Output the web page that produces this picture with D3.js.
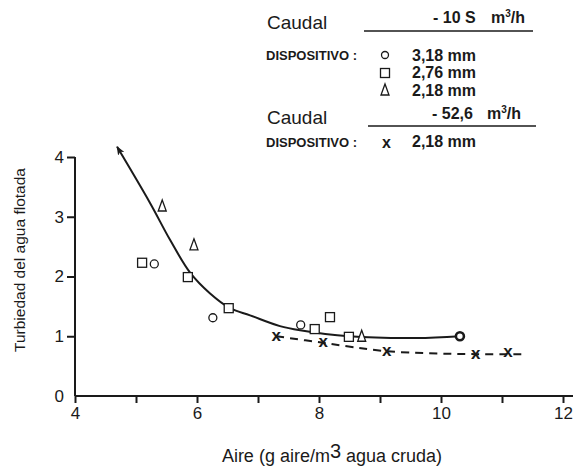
<!DOCTYPE html>
<html><head><meta charset="utf-8">
<script src="https://cdn.jsdelivr.net/npm/d3@7"></script>
<style>body{margin:0;background:#fff}svg{display:block;font-family:Arial,"Liberation Sans",sans-serif}</style>
</head><body>
<svg id="c" width="574" height="466"></svg>
<script>
// ---- data ----
const xTicks = [4,5,6,7,8,9,10,11,12];
const xTickLabels = ["4","","6","","8","","10","","12"];
const yTicks = [0,1,2,3,4];
const circlesX = [5.30, 6.26, 7.70];
const circlesY = [2.21, 1.31, 1.19];
const squaresX = [5.10, 5.85, 6.52, 7.93, 8.18, 8.49];
const squaresY = [2.23, 1.99, 1.47, 1.12, 1.32, 0.99];
const trianglesX = [5.43, 5.95, 8.70];
const trianglesY = [3.18, 2.53, 1.00];
const endCircleX = [10.31];
const endCircleY = [1.00];
const crossesX = [7.30, 8.07, 9.11, 10.57, 11.10];
const crossesY = [1.00, 0.89, 0.75, 0.70, 0.72];
const curveX = [4.69, 5.23, 5.56, 5.89, 6.21, 6.54, 6.87, 7.36, 7.69, 8.49, 9.60, 10.31];
const curveY = [4.17, 3.23, 2.61, 2.06, 1.72, 1.47, 1.35, 1.17, 1.10, 1.00, 0.97, 1.00];
const dashX = [7.30, 8.07, 9.11, 10.57, 11.41];
const dashY = [1.00, 0.89, 0.75, 0.70, 0.70];

const svg = d3.select("#c");
const ink = "#1a1a1a";
const x = d3.scaleLinear([4,12],[75,563]);
const y = d3.scaleLinear([0,4],[396,157]);

svg.append("defs").append("marker")
  .attr("id","arr").attr("viewBox","0 0 10 10").attr("refX",9).attr("refY",5)
  .attr("markerWidth",9).attr("markerHeight",9).attr("markerUnits","userSpaceOnUse")
  .attr("orient","auto-start-reverse")
  .append("path").attr("d","M0,1 L10,5 L0,9 L2.5,5 Z").attr("fill",ink);

// axes
const xAxis = d3.axisBottom(x).tickValues(xTicks).tickSize(7).tickPadding(4)
  .tickFormat((d,i)=>xTickLabels[i]);
const gx = svg.append("g").attr("transform",`translate(0,${y(0)})`).call(xAxis);
gx.select(".domain").attr("d",`M${x(4)},0H573`).attr("stroke",ink).attr("stroke-width",2);
gx.selectAll(".tick line").attr("stroke",ink).attr("stroke-width",2);
gx.selectAll(".tick text").attr("fill",ink).attr("font-size",17).attr("font-family","Arial,'Liberation Sans',sans-serif");

const yAxis = d3.axisLeft(y).tickValues(yTicks).tickSize(8).tickPadding(3).tickFormat(d3.format("d"));
const gy = svg.append("g").attr("transform",`translate(${x(4)},0)`).call(yAxis);
gy.select(".domain").attr("d",`M0,${y(4)}V${y(0)}`).attr("stroke",ink).attr("stroke-width",2);
gy.selectAll(".tick line").attr("stroke",ink).attr("stroke-width",2);
gy.selectAll(".tick text").attr("fill",ink).attr("font-size",17).attr("font-family","Arial,'Liberation Sans',sans-serif");
gy.selectAll(".tick").filter(d=>d===0).select("line").remove();

// axis titles
svg.append("text").attr("transform","translate(25,260) rotate(-90)").attr("text-anchor","middle")
  .attr("font-size",15.5).attr("fill",ink).text("Turbiedad del agua flotada");
const xl = svg.append("text").attr("x",332).attr("y",462).attr("text-anchor","middle")
  .attr("font-size",18).attr("fill",ink);
xl.append("tspan").text("Aire (g aire/m");
xl.append("tspan").attr("dy",-4).attr("font-size",20).text("3");
xl.append("tspan").attr("dy",4).text(" agua cruda)");

// curves
const line = d3.line().curve(d3.curveCatmullRom.alpha(0.5));
svg.append("path").attr("d",line(curveX.map((d,i)=>[x(d),y(curveY[i])])))
  .attr("fill","none").attr("stroke",ink).attr("stroke-width",2).attr("marker-start","url(#arr)");
svg.append("path").attr("d",line(dashX.map((d,i)=>[x(d),y(dashY[i])])))
  .attr("fill","none").attr("stroke",ink).attr("stroke-width",2).attr("stroke-dasharray","8,6");

// symbol helpers
function circ(g,cx,cy,r,sw){g.append("circle").attr("cx",cx).attr("cy",cy).attr("r",r).attr("fill","#fff").attr("stroke",ink).attr("stroke-width",sw);}
function sq(g,cx,cy){g.append("rect").attr("x",cx-4.5).attr("y",cy-4.5).attr("width",9).attr("height",9).attr("fill","#fff").attr("stroke",ink).attr("stroke-width",1.3);}
function tri(g,cx,cy){g.append("path").attr("d",`M${cx},${cy-6}L${cx+4},${cy+5}L${cx-4},${cy+5}Z`).attr("fill","#fff").attr("stroke",ink).attr("stroke-width",1.3);}
function cross(g,cx,cy,fs){g.append("text").attr("x",cx).attr("y",cy+4.5).attr("text-anchor","middle").attr("font-size",fs).attr("font-weight","bold").attr("fill",ink).text("x");}

const pts = svg.append("g");
crossesX.forEach((d,i)=>cross(pts,x(d),y(crossesY[i]),17));
circlesX.forEach((d,i)=>circ(pts,x(d),y(circlesY[i]),4,1.3));
squaresX.forEach((d,i)=>sq(pts,x(d),y(squaresY[i])));
trianglesX.forEach((d,i)=>tri(pts,x(d),y(trianglesY[i])));
endCircleX.forEach((d,i)=>circ(pts,x(d),y(endCircleY[i]),4,2.6));

// legend
const lg = svg.append("g").attr("fill",ink);
function t(xx,yy,s,fs,bold,anchor){return lg.append("text").attr("x",xx).attr("y",yy).attr("font-size",fs)
  .attr("font-weight",bold?"bold":"normal").attr("text-anchor",anchor||"start").text(s);}
function unit(xx,yy){const u = lg.append("text").attr("x",xx).attr("y",yy).attr("font-size",16).attr("font-weight","bold");
  u.append("tspan").text("m"); u.append("tspan").attr("dy",-6).attr("font-size",10).text("3"); u.append("tspan").attr("dy",6).text("/h");}
t(267,29,"Caudal",19,false);
t(433,23,"- 10 S",16,true);
unit(491,23);
lg.append("line").attr("x1",364).attr("x2",533).attr("y1",31).attr("y2",31).attr("stroke",ink).attr("stroke-width",1.6);
t(266,60,"DISPOSITIVO :",13,true);
circ(lg,385,55,3.5,1.3); t(412,61,"3,18 mm",16,true);
sq(lg,385,73); t(412,78,"2,76 mm",16,true);
tri(lg,385,90); t(412,96,"2,18 mm",16,true);
t(267,124,"Caudal",19,false);
t(432,119,"- 52,6",16,true);
unit(487,119);
lg.append("line").attr("x1",368).attr("x2",536).attr("y1",126).attr("y2",126).attr("stroke",ink).attr("stroke-width",1.6);
t(266,147,"DISPOSITIVO :",13,true);
t(382,148,"x",16,true);
t(412,147,"2,18 mm",16,true);
</script>
</body></html>
